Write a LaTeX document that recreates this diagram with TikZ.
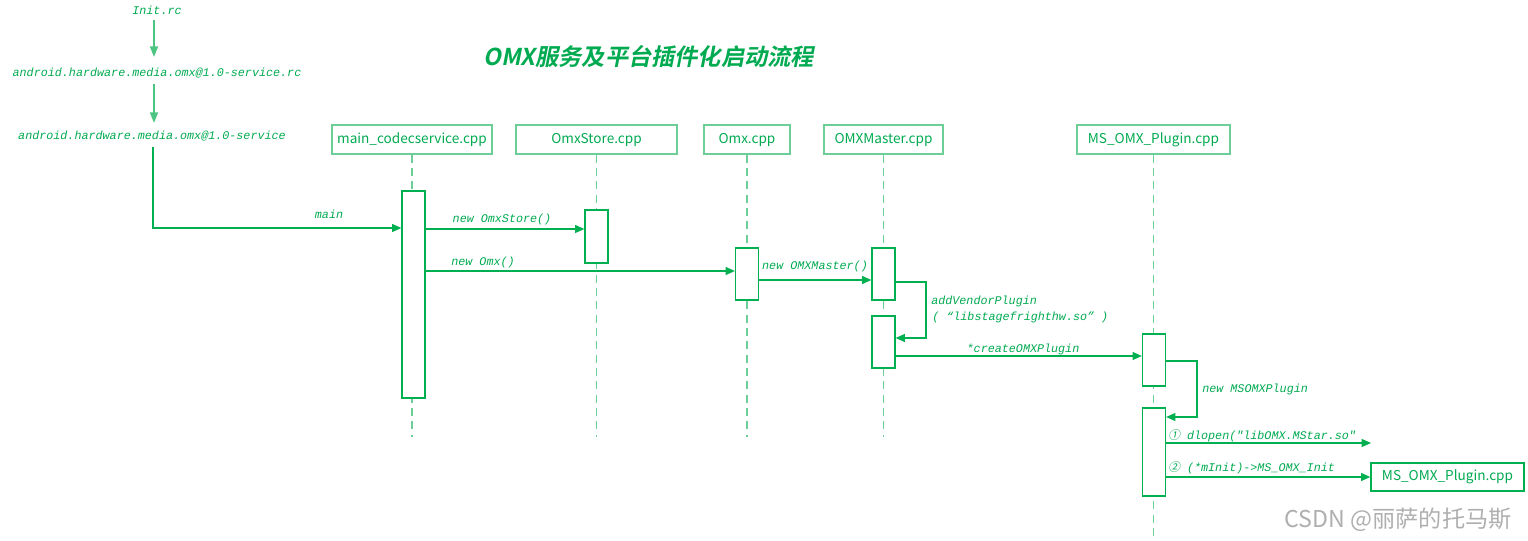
\documentclass[tikz,border=0pt]{standalone}
\usepackage{fontspec}
\usetikzlibrary{arrows.meta}
\newfontfamily\monoit{Liberation Mono}[ItalicFont={Liberation Mono Italic}]
\newfontfamily\cjk{Noto Sans CJK SC}
\newfontfamily\cjkslant{Noto Sans CJK SC}[FakeSlant=0.2]
\newfontfamily\cjktitle{Noto Sans CJK SC Bold}[FakeSlant=0.2]
\definecolor{gline}{RGB}{0,176,80}
\definecolor{gbox}{RGB}{110,206,152}
\definecolor{gtext}{RGB}{0,170,80}
\definecolor{wm}{RGB}{175,175,175}
\tikzset{
  mono/.style={text=gtext, font=\monoit\itshape\fontsize{8.8}{10}\selectfont, inner sep=0},
  headbox/.style={draw=gbox, line width=1pt, text=gtext, font=\cjk\fontsize{10.2}{12}\selectfont, minimum height=29*0.75pt, inner sep=0},
  act/.style={draw=gline, line width=0.9pt, fill=white, minimum width=23*0.75pt, inner sep=0},
  life/.style={draw=gbox, line width=1pt, dash pattern=on 6pt off 4pt},
  msg/.style={draw=gline, line width=0.9pt, -{Triangle[length=7pt,width=6pt]}},
  flow/.style={draw=gbox!70!gline, line width=1.3pt, -{Triangle[length=8pt,width=6pt]}},
}
\begin{document}
\begin{tikzpicture}[x=0.75pt,y=-0.75pt]
\useasboundingbox (0,0) rectangle (1528,541);
% title
\node[text=gtext, font=\cjktitle\fontsize{17.4}{20}\selectfont, anchor=west, inner sep=0] (title) at (483,57) {OMX服务及平台插件化启动流程};
% init chain
\node[mono] (init) at (157,10) {Init.rc};
\node[mono] (rc) at (157,73) {android.hardware.media.omx@1.0-service.rc};
\node[mono] (svc) at (152,136) {android.hardware.media.omx@1.0-service};
% lifeline heads
\node[headbox, minimum width=160*0.75pt] (hmain) at (412,139.5) {main\_codecservice.cpp};
\node[headbox, minimum width=161*0.75pt] (hstore) at (596.5,139.5) {OmxStore.cpp};
\node[headbox, minimum width=86*0.75pt] (homx) at (747,139.5) {Omx.cpp};
\node[headbox, minimum width=119*0.75pt] (hmaster) at (883.5,139.5) {OMXMaster.cpp};
\node[headbox, minimum width=153*0.75pt] (hplug) at (1153.5,139.5) {MS\_OMX\_Plugin.cpp};
% lifelines
\draw[life] (hmain.south) -- (hmain.south |- 0,437);
\draw[life] (hstore.south) -- (hstore.south |- 0,437);
\draw[life] (homx.south) -- (homx.south |- 0,437);
\draw[life] (hmaster.south) -- (hmaster.south |- 0,437);
\draw[life] (hplug.south) -- (hplug.south |- 0,541);
% activations
\node[act, minimum height=207*0.75pt] (amain) at (413.5,294.5) {};
\node[act, minimum height=53*0.75pt] (astore) at (596.5,236.5) {};
\node[act, minimum height=52*0.75pt] (aomx) at (747,274) {};
\node[act, minimum height=52*0.75pt] (amaster1) at (883.5,274) {};
\node[act, minimum height=52*0.75pt] (amaster2) at (883.5,342) {};
\node[act, minimum height=52*0.75pt] (aplug1) at (1154,360) {};
\node[act, minimum height=88*0.75pt] (aplug2) at (1154,452) {};
% result box
\node[headbox, minimum width=153*0.75pt, minimum height=28*0.75pt, draw=gline] (rbox) at (1447.5,477) {MS\_OMX\_Plugin.cpp};
% init arrows
\draw[flow] (init.south -| 154,0) ++(0,5) -- (154,57);
\draw[flow] (rc.south -| 154,0) ++(0,6) -- (154,123);
% main
\draw[msg] (svc.south -| 153,0) ++(0,6) -- (153,228) -- (amain.west |- 0,228);
\node[mono] (lmain) at (329,214) {main};
% messages
\draw[msg] (amain.east |- 0,229) -- (astore.west |- 0,229);
\node[mono] (l1) at (502,219) {new OmxStore()};
\draw[msg] (amain.east |- 0,271) -- (aomx.west |- 0,271);
\node[mono] (l2) at (483,262) {new Omx()};
\draw[msg] (aomx.east |- 0,280) -- (amaster1.west |- 0,280);
\node[mono] (l3) at (815,266) {new OMXMaster()};
\draw[msg] (amaster1.east |- 0,282) -- (926,282) -- (926,338) -- (amaster2.east |- 0,338);
\node[mono, anchor=west] (l4) at (931,301) {addVendorPlugin};
\node[mono, anchor=west] (l5) at (932,317) {( “libstagefrighthw.so” )};
\draw[msg] (amaster2.east |- 0,356) -- (aplug1.west |- 0,356);
\node[mono] (l6) at (1023,349) {*createOMXPlugin};
\draw[msg] (aplug1.east |- 0,361) -- (1197,361) -- (1197,417) -- (aplug2.east |- 0,417);
\node[mono, anchor=west] (l7) at (1202,389) {new MSOMXPlugin};
\coordinate (dlend) at (1371,443);
\draw[msg] (aplug2.east |- dlend) -- (dlend);
\node[mono, anchor=west] (l8) at (1168,436) {{\cjkslant\fontsize{8.8}{10}\selectfont ①} dlopen("libOMX.MStar.so"};
\draw[msg] (aplug2.east |- 0,477) -- (rbox.west);
\node[mono, anchor=west] (l9) at (1168,468) {{\cjkslant\fontsize{8.8}{10}\selectfont ②} (*mInit)->MS\_OMX\_Init};
% watermark
\node[text=wm, font=\cjk\fontsize{17.4}{20}\selectfont, anchor=east, inner sep=0] (wmk) at (1512,520) {CSDN @丽萨的托马斯};
\end{tikzpicture}
\end{document}
